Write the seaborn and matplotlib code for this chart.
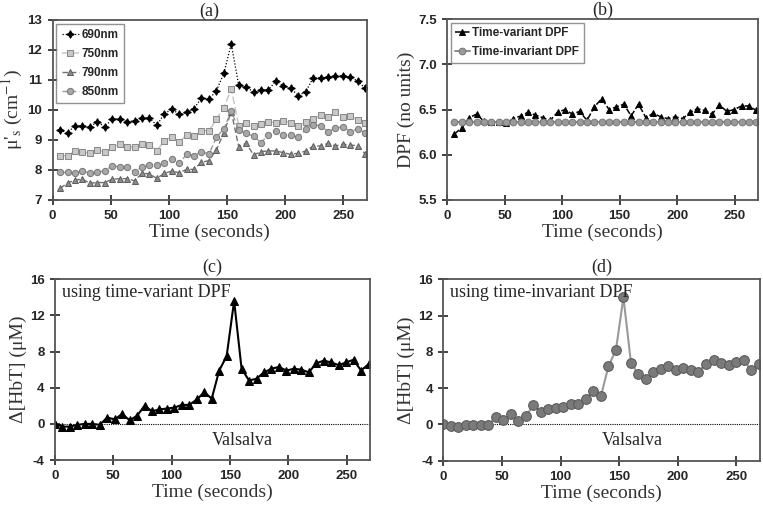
import numpy as np
import pandas as pd
import matplotlib
matplotlib.use("Agg")
import matplotlib.pyplot as plt
import seaborn as sns

# sample times (s)
time = [0.0, 6.4, 12.8, 19.2, 25.6, 32.0, 38.4, 44.8, 51.2, 57.6, 64.0, 70.4,
        76.8, 83.2, 89.6, 96.0, 102.4, 108.8, 115.2, 121.6, 128.0, 134.4,
        140.8, 147.2, 153.6, 160.0, 166.4, 172.8, 179.2, 185.6, 192.0, 198.4,
        204.8, 211.2, 217.6, 224.0, 230.4, 236.8, 243.2, 249.6, 256.0, 262.4,
        268.8]
time_ab = time[1:]

# panel (a): reduced scattering coefficient
mus_690 = [9.33, 9.24, 9.48, 9.47, 9.43, 9.61, 9.44, 9.70, 9.70, 9.61, 9.64,
           9.73, 9.73, 9.49, 9.87, 10.03, 9.86, 9.92, 10.04, 10.41, 10.36,
           10.64, 11.22, 12.20, 10.83, 10.78, 10.59, 10.67, 10.67, 10.97,
           10.80, 10.72, 10.48, 10.61, 11.06, 11.06, 11.09, 11.13, 11.14,
           11.09, 10.97, 10.72]
mus_750 = [8.48, 8.48, 8.63, 8.59, 8.56, 8.67, 8.59, 8.78, 8.86, 8.76, 8.78,
           8.86, 8.83, 8.64, 8.97, 9.10, 8.92, 9.17, 9.13, 9.31, 9.31, 9.69,
           10.08, 10.70, 9.48, 9.58, 9.47, 9.53, 9.59, 9.58, 9.64, 9.56, 9.48,
           9.60, 9.69, 9.83, 9.78, 9.92, 9.78, 9.81, 9.67, 9.56]
mus_790 = [7.39, 7.56, 7.67, 7.69, 7.56, 7.58, 7.58, 7.69, 7.71, 7.71, 7.64,
           7.89, 7.87, 7.72, 7.89, 7.96, 7.91, 8.02, 8.02, 8.26, 8.31, 8.67,
           9.24, 9.94, 8.78, 8.89, 8.50, 8.61, 8.64, 8.63, 8.58, 8.52, 8.56,
           8.63, 8.80, 8.80, 8.89, 8.80, 8.86, 8.83, 8.81, 8.53]
mus_850 = [7.92, 7.92, 7.89, 7.98, 7.89, 7.92, 7.98, 8.13, 8.11, 8.09, 7.94,
           8.11, 8.17, 8.17, 8.22, 8.37, 8.22, 8.52, 8.48, 8.61, 8.53, 9.09,
           9.37, 9.97, 9.33, 9.22, 9.13, 8.91, 9.17, 9.31, 9.17, 9.17, 9.09,
           9.36, 9.50, 9.48, 9.28, 9.39, 9.44, 9.28, 9.37, 9.24]

# panel (b): DPF
dpf_variant = [6.23, 6.30, 6.41, 6.45, 6.37, 6.36, 6.36, 6.35, 6.40, 6.43,
               6.47, 6.44, 6.41, 6.38, 6.47, 6.50, 6.45, 6.48, 6.38, 6.53,
               6.62, 6.50, 6.53, 6.56, 6.43, 6.56, 6.41, 6.46, 6.42, 6.40,
               6.42, 6.40, 6.47, 6.51, 6.49, 6.45, 6.55, 6.48, 6.50, 6.54,
               6.54, 6.49]
dpf_invariant = [6.36] * 42

# panels (c), (d): change in total haemoglobin
hbt_variant = [0.0, -0.3, -0.3, -0.1, 0.0, 0.0, -0.1, 0.7, 0.5, 1.1, 0.4, 0.9,
               2.0, 1.4, 1.6, 1.7, 1.8, 2.1, 2.1, 2.7, 3.5, 2.8, 5.9, 7.5,
               13.6, 6.1, 4.8, 5.0, 5.7, 6.1, 6.3, 5.9, 6.1, 6.0, 5.7, 6.7,
               7.0, 6.8, 6.5, 6.8, 7.1, 5.9, 6.6]
hbt_invariant = [0.0, -0.2, -0.3, -0.1, -0.1, -0.05, -0.1, 0.8, 0.5, 1.1, 0.4,
                 0.9, 2.1, 1.4, 1.7, 1.8, 1.9, 2.2, 2.2, 2.8, 3.7, 3.1, 6.4,
                 8.2, 14.0, 6.8, 5.5, 5.0, 5.8, 6.1, 6.4, 6.0, 6.2, 6.0, 5.8,
                 6.7, 7.1, 6.8, 6.5, 6.9, 7.1, 6.0, 6.7]

sns.set_style("white")
plt.rcParams["font.family"] = ["Liberation Serif", "DejaVu Serif"]
plt.rcParams["mathtext.fontset"] = "stix"
plt.rcParams["xtick.bottom"] = True
plt.rcParams["ytick.left"] = True

SANS = ["Liberation Sans", "DejaVu Sans"]
SPINE = "#555555"
LABEL = "#333333"


def style_axes(ax, ylim, yticks, yfmt, ylabel):
    ax.set_xlim(0, 270)
    ax.set_xticks([0, 50, 100, 150, 200, 250])
    ax.set_ylim(*ylim)
    ax.set_yticks(yticks)
    ax.set_yticklabels([yfmt.format(v) for v in yticks])
    for lab in ax.get_xticklabels() + ax.get_yticklabels():
        lab.set_family(SANS)
        lab.set_fontweight("bold")
        lab.set_fontsize(9.5)
    ax.tick_params(bottom=True, left=True, direction="inout", length=7,
                   width=1.3, color="#333333", pad=4)
    for s in ax.spines.values():
        s.set_color(SPINE)
        s.set_linewidth(1.3)
    ax.set_xlabel("Time (seconds)", fontsize=14, color=LABEL, labelpad=1)
    ax.set_ylabel(ylabel, fontsize=14, color=LABEL, labelpad=2)


fig = plt.figure(figsize=(7.63, 5.05), dpi=100)
ax_a = fig.add_axes([0.069, 0.604, 0.4115, 0.3564])
ax_b = fig.add_axes([0.586, 0.604, 0.407, 0.358])
ax_c = fig.add_axes([0.072, 0.089, 0.4128, 0.358])
ax_d = fig.add_axes([0.581, 0.088, 0.415, 0.359])

# (a)
df_a = pd.DataFrame({"time": time_ab, "690nm": mus_690, "750nm": mus_750,
                     "790nm": mus_790, "850nm": mus_850})
a_styles = {
    "690nm": dict(color="black", marker=(4, 1, 0), markersize=5.5, ls=(0, (1, 1.5)),
                  lw=0.9, mfc="black", mec="black"),
    "750nm": dict(color="#c8c8c8", marker="s", markersize=4.5, ls=(0, (5, 2)),
                  lw=1.1, mfc="#c8c8c8", mec="#8a8a8a"),
    "790nm": dict(color="#707070", marker="^", markersize=4.2, ls=(0, (4, 2)),
                  lw=1.0, mfc="#8c8c8c", mec="#606060"),
    "850nm": dict(color="#9a9a9a", marker="o", markersize=4.5, ls=(0, (4, 2)),
                  lw=1.0, mfc="#a8a8a8", mec="#7a7a7a"),
}
for name, st in a_styles.items():
    sns.lineplot(data=df_a, x="time", y=name, ax=ax_a, label=name,
                 color=st["color"], marker=st["marker"], markersize=st["markersize"],
                 linestyle=st["ls"], linewidth=st["lw"],
                 markerfacecolor=st["mfc"], markeredgecolor=st["mec"])
style_axes(ax_a, (7, 13), [7, 8, 9, 10, 11, 12, 13], "{:d}",
           r"μ'$_{\mathrm{s}}$ (cm$^{-1}$)")
ax_a.set_title("(a)", fontsize=13, pad=2)
leg = ax_a.legend(loc="upper left", prop={"family": SANS, "weight": "bold", "size": 8.5},
                  frameon=True, fancybox=False, edgecolor="#777777",
                  handlelength=1.5, handletextpad=0.2, borderaxespad=0.3,
                  labelspacing=0.6, borderpad=0.45)
leg.get_frame().set_linewidth(1.0)

# (b)
df_b = pd.DataFrame({"time": time_ab, "variant": dpf_variant,
                     "invariant": dpf_invariant})
sns.lineplot(data=df_b, x="time", y="variant", ax=ax_b, label="Time-variant DPF",
             color="black", marker="^", markersize=4.5, linestyle=(0, (4, 1.5)),
             linewidth=1.1, markerfacecolor="black", markeredgecolor="black")
sns.lineplot(data=df_b, x="time", y="invariant", ax=ax_b, label="Time-invariant DPF",
             color="#8c8c8c", marker="o", markersize=4.8, linestyle="-",
             linewidth=1.4, markerfacecolor="#9a9a9a", markeredgecolor="#7a7a7a")
style_axes(ax_b, (5.5, 7.5), [5.5, 6.0, 6.5, 7.0, 7.5], "{:.1f}",
           "DPF (no units)")
ax_b.set_title("(b)", fontsize=13, pad=2)
leg = ax_b.legend(loc="upper left", prop={"family": SANS, "weight": "bold", "size": 8.5},
                  frameon=True, fancybox=False, edgecolor="#777777",
                  handlelength=1.2, handletextpad=0.2, borderaxespad=0.3,
                  labelspacing=0.55, borderpad=0.4)
leg.get_frame().set_linewidth(1.0)

# (c) and (d)
df_cd = pd.DataFrame({"time": time, "variant": hbt_variant,
                      "invariant": hbt_invariant})
sns.lineplot(data=df_cd, x="time", y="variant", ax=ax_c, color="black",
             marker="^", markersize=6, linewidth=1.5,
             markerfacecolor="black", markeredgecolor="black")
sns.lineplot(data=df_cd, x="time", y="invariant", ax=ax_d, color="#9a9a9a",
             marker="o", markersize=7, linewidth=1.5,
             markerfacecolor="#7a7a7a", markeredgecolor="#5a5a5a")
for ax, title, note in [(ax_c, "(c)", "using time-variant DPF"),
                        (ax_d, "(d)", "using time-invariant DPF")]:
    ax.axhline(0, color="black", linestyle=(0, (1, 1)), linewidth=0.8, zorder=0)
    style_axes(ax, (-4, 16), [-4, 0, 4, 8, 12, 16], "{:d}", "Δ[HbT] (μM)")
    ax.set_title(title, fontsize=13, pad=5)
    ax.text(6, 14.5, note, fontsize=13, va="center", ha="left")
    ax.text(161, -1.8, "Valsalva", fontsize=13, va="center", ha="center")

fig.savefig("out.png", dpi=100)
